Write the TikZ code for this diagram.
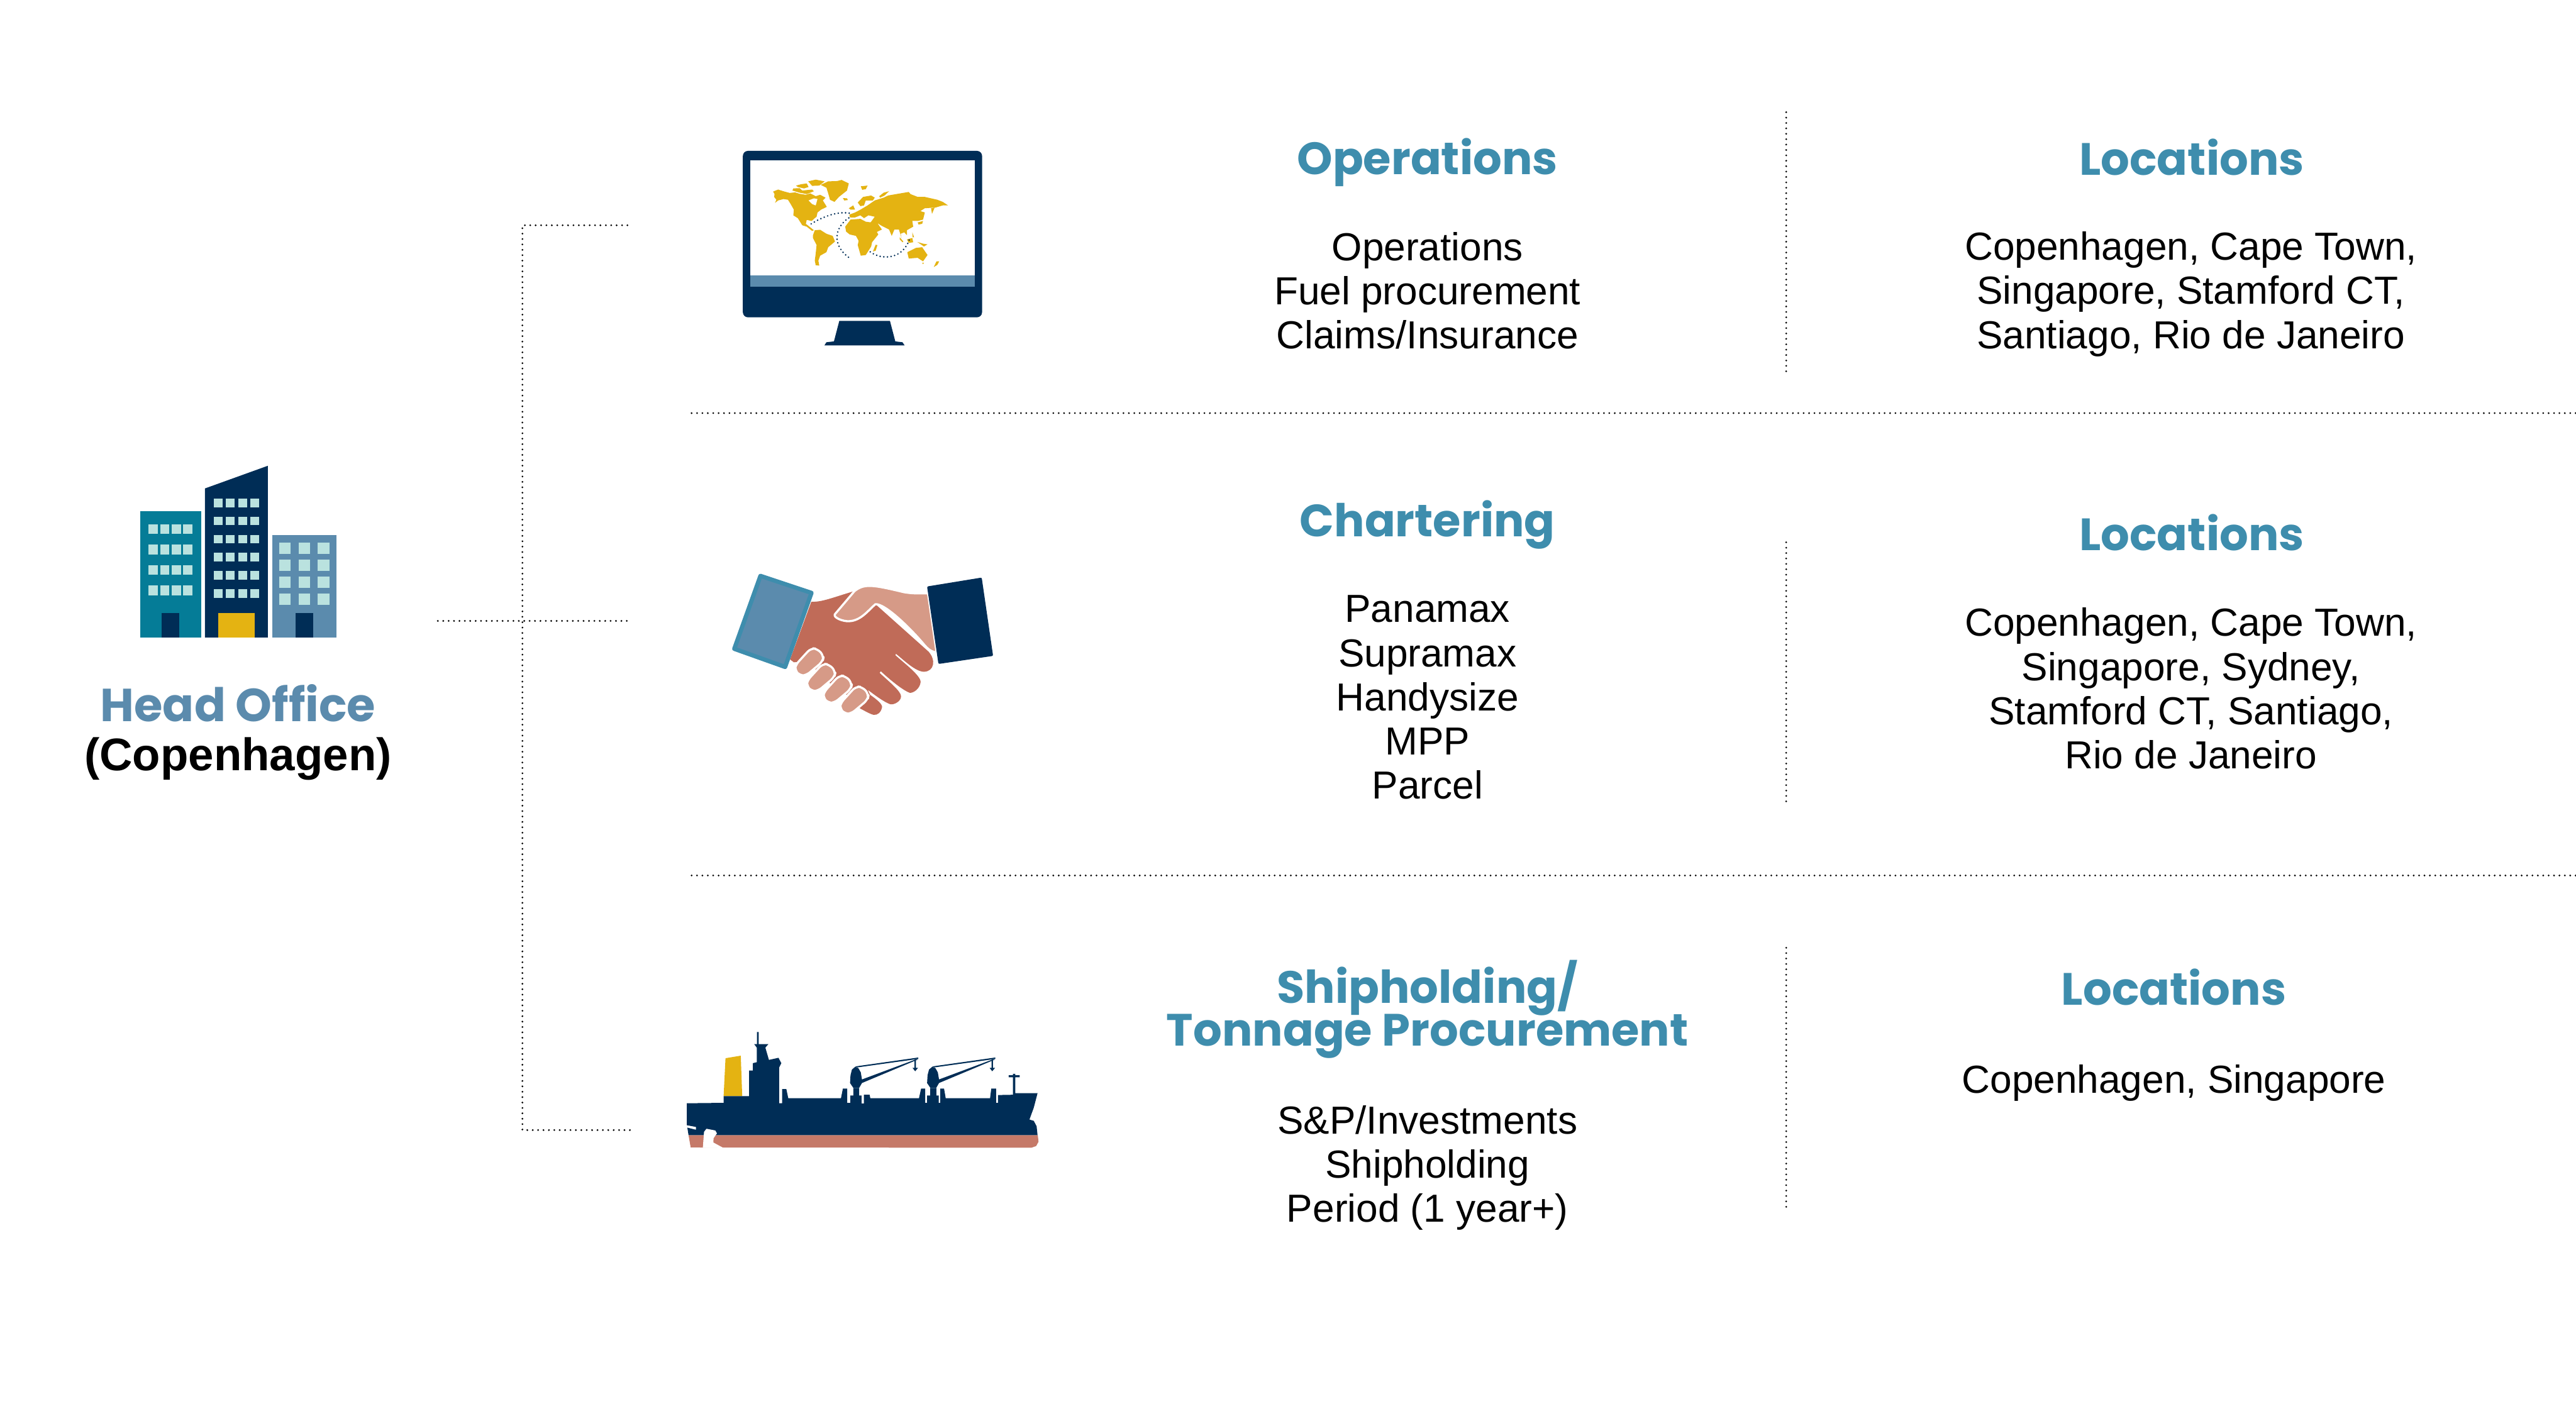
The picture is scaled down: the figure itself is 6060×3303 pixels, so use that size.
\documentclass[tikz,border=0pt]{standalone}
\usepackage{fontspec}
\setmainfont{Liberation Sans}
\newfontfamily\gothfont{Poppins}
\lineskiplimit=-10pt

\definecolor{navy}{HTML}{002D56}
\definecolor{seablue}{HTML}{057C97}
\definecolor{slate}{HTML}{5B8BAD}
\definecolor{pane}{HTML}{BAE2DF}
\definecolor{gold}{HTML}{E4B312}
\definecolor{heading}{HTML}{3E8DAD}
\definecolor{skindark}{HTML}{C06B58}
\definecolor{skinlight}{HTML}{D69A87}
\definecolor{hullred}{HTML}{C57968}

\tikzset{
	bodytext/.style={align=center,inner sep=0pt,font=\fontsize{9.2}{10.4}\selectfont},
	headtext/.style={align=center,inner sep=0pt,text=heading,font=\gothfont\bfseries\fontsize{10.65}{10}\selectfont},
	dotline/.style={line width=.45pt,line cap=round,dash pattern=on 0pt off 1.27pt},
	routedots/.style={navy,line width=.4pt,line cap=round,dash pattern=on 0pt off .86pt},
	gapline/.style={draw=white,line width=.5pt,line join=round},
}

\begin{document}
\begin{tikzpicture}[x=0.1pt,y=-0.1pt]
	\useasboundingbox (0,0) rectangle (6060,3303);

	% buildings
	\begin{scope}[shift={(280,1050)},xscale=.3571,yscale=.3333]
		\fill[seablue] (138,460) rectangle (540,1350);
		\fill[navy] (566,298) -- (980,138) -- (980,1350) -- (566,1350) -- cycle;
		\fill[slate] (1008,626) rectangle (1431,1350);
		\fill[navy] (281,1178) rectangle (397,1350);
		\fill[gold] (652,1178) rectangle (894,1350);
		\fill[navy] (1162,1178) rectangle (1278,1350);
		\foreach \y in {550,694,838,981}
			\foreach \x/\w in {192/65,271/60,345/63,421/64}
				\fill[pane] (\x,\y) rectangle ++(\w,70);
		\foreach \y in {369,497,625,753,880,1008}
			\foreach \x in {624,704,785,865}
				\fill[pane] (\x,\y) rectangle ++(58,61);
		\foreach \y in {681,801,920,1039}
			\foreach \x in {1055,1182,1309}
				\fill[pane] (\x,\y) rectangle ++(76,80);
	\end{scope}

	% monitor
	\begin{scope}[shift={(1700,320)},xscale=.4209,yscale=.3333]
		\fill[navy,rounded corners=1.2pt] (113,105) rectangle (1450,1280);
		\fill[white] (155,172) rectangle (1409,982);
		\fill[slate] (155,982) rectangle (1409,1062);
		\fill[navy] (652,1305) -- (935,1305) -- (965,1450) -- (1005,1456) -- (1017,1478) -- (569,1478) -- (580,1456) -- (622,1450) -- cycle;
		\fill[gold] (282,392) -- (310,378) -- (345,392) -- (375,402) -- (405,398) -- (430,408) -- (465,415) -- (490,405) -- (520,425) -- (545,415) -- (575,435) -- (560,455) -- (582,500) -- (550,520) -- (530,540) -- (525,570) -- (510,585) -- (498,600) -- (470,592) -- (465,620) -- (480,635) -- (495,650) -- (510,665) -- (500,670) -- (470,640) -- (445,630) -- (420,580) -- (395,560) -- (398,520) -- (380,480) -- (365,450) -- (340,445) -- (310,455) -- (293,472) -- (300,450) -- (288,430) -- (290,410) -- cycle;
		\fill[white] (480,455) -- (510,440) -- (530,445) -- (520,490) -- (500,480) -- cycle;
		\fill[gold] (410,350) -- (440,340) -- (470,335) -- (480,360) -- (455,370) -- (420,360) -- cycle;
		\fill[gold] (395,370) -- (430,368) -- (445,385) -- (500,378) -- (510,390) -- (470,410) -- (430,400) -- (390,385) -- cycle;
		\fill[gold] (478,320) -- (520,308) -- (570,320) -- (540,350) -- (500,352) -- cycle;
		\fill[gold] (548,345) -- (590,320) -- (640,318) -- (665,310) -- (705,335) -- (695,385) -- (670,410) -- (650,430) -- (625,465) -- (600,450) -- (590,405) -- (580,365) -- cycle;
		\fill[gold] (672,438) -- (695,440) -- (700,452) -- (680,455) -- cycle;
		\fill[gold] (772,355) -- (810,350) -- (800,375) -- (780,380) -- cycle;
		\fill[gold] (515,665) -- (545,662) -- (580,690) -- (615,705) -- (628,745) -- (590,785) -- (580,820) -- (545,845) -- (535,880) -- (540,915) -- (520,912) -- (515,880) -- (520,830) -- (525,770) -- (505,720) -- (505,700) -- cycle;
		\fill[gold] (685,640) -- (715,590) -- (770,585) -- (800,605) -- (830,610) -- (870,695) -- (835,750) -- (830,780) -- (800,840) -- (772,845) -- (755,770) -- (760,740) -- (745,705) -- (710,695) -- (690,675) -- cycle;
		\fill[gold] (855,768) -- (865,770) -- (855,810) -- (840,815) -- cycle;
		\fill[gold] (708,555) -- (740,540) -- (770,520) -- (810,490) -- (850,455) -- (900,435) -- (925,420) -- (970,410) -- (1040,395) -- (1050,410) -- (1090,430) -- (1130,430) -- (1200,450) -- (1230,465) -- (1260,490) -- (1230,490) -- (1190,505) -- (1130,510) -- (1105,530) -- (1130,540) -- (1120,590) -- (1090,600) -- (1060,600) -- (1065,640) -- (1030,665) -- (1030,700) -- (1015,680) -- (995,690) -- (1000,720) -- (985,660) -- (960,660) -- (945,705) -- (930,660) -- (890,635) -- (865,615) -- (890,660) -- (850,685) -- (820,620) -- (830,605) -- (850,570) -- (815,560) -- (790,580) -- (770,560) -- (740,575) -- (712,575) -- cycle;
		\fill[gold] (755,470) -- (785,430) -- (830,420) -- (850,435) -- (840,455) -- (800,455) -- (790,490) -- (770,495) -- cycle;
		\fill[gold] (875,425) -- (900,400) -- (930,390) -- (905,420) -- (880,435) -- cycle;
		\fill[gold] (705,510) -- (730,490) -- (740,520) -- (715,520) -- cycle;
		\fill[gold] (1090,610) -- (1120,600) -- (1115,620) -- (1095,625) -- cycle;
		\fill[gold] (1165,510) -- (1185,505) -- (1170,550) -- cycle;
		\fill[gold] (1030,730) -- (1060,720) -- (1065,750) -- (1040,755) -- cycle;
		\fill[gold] (990,715) -- (1010,745) -- (1005,750) -- (990,730) -- cycle;
		\fill[gold] (1060,680) -- (1070,715) -- (1062,715) -- cycle;
		\fill[gold] (1088,748) -- (1120,760) -- (1145,765) -- (1125,780) -- cycle;
		\fill[gold] (1032,820) -- (1080,790) -- (1115,785) -- (1145,840) -- (1120,885) -- (1090,860) -- (1040,865) -- cycle;
		\fill[gold] (1115,895) -- (1125,895) -- (1120,905) -- cycle;
		\fill[gold] (1195,885) -- (1210,885) -- (1200,910) -- (1180,925) -- cycle;
		\draw[routedots] (495,620) .. controls (560,570) and (640,530) .. (710,545);
		\draw[routedots] (705,578) .. controls (620,650) and (610,780) .. (717,868);
		\draw[routedots] (825,818) .. controls (890,880) and (1010,870) .. (1045,725);
	\end{scope}

	% handshake
	\begin{scope}[shift={(1680,1310)},xscale=.4464,yscale=.3333]
		\fill[skindark] (512,318) .. controls (570,320) and (620,290) .. (740,242) -- (850,335) -- (1130,670) .. controls (1170,730) and (1160,810) .. (1105,812) .. controls (1060,810) and (1000,730) .. (958,685) -- (955,695) .. controls (1000,750) and (1090,840) .. (1088,885) .. controls (1085,930) and (1050,965) .. (1030,960) .. controls (990,940) and (920,860) .. (878,808) -- (872,820) .. controls (920,880) and (985,950) .. (985,985) .. controls (985,1020) and (950,1045) .. (930,1042) .. controls (900,1030) and (850,980) .. (810,940) -- (822,975) .. controls (860,1010) and (885,1040) .. (885,1060) .. controls (880,1100) and (860,1120) .. (840,1116) .. controls (820,1110) and (790,1085) .. (770,1072) -- (736,1010) -- (648,928) -- (560,845) -- (503,735) -- (420,745) -- (400,725) -- cycle;
		\filldraw[fill=skinlight,gapline] (740,242) .. controls (790,190) and (830,195) .. (1000,250) .. controls (1050,262) and (1090,258) .. (1127,258) -- (1172,675) .. controls (1140,670) and (1125,650) .. (1100,610) .. controls (1030,500) and (900,330) .. (850,335) .. controls (810,380) and (770,460) .. (700,455) .. controls (660,450) and (620,420) .. (640,400) -- cycle;
		\foreach \dx/\dy in {0/0,62/110,149/193,237/270}
			\filldraw[fill=skinlight,gapline,rounded corners=1.1pt,shift={(\dx,\dy)}] (510,645) -- (545,650) -- (578,700) -- (572,740) -- (485,838) -- (452,840) -- (425,800) -- (428,765) -- cycle;
		\filldraw[draw=heading,fill=slate,line width=1pt,line join=round] (244,135) -- (513,255) -- (374,778) -- (106,650) -- cycle;
		\fill[navy,rounded corners=.3pt] (1122,210) -- (1410,147) -- (1470,700) -- (1182,757) -- cycle;
	\end{scope}

	% ship
	\begin{scope}[shift={(1590,2400)},xscale=.5612,yscale=.3333]
		\fill[gold] (208,270) -- (272,252) -- (278,538) -- (200,538) -- cycle;
		\fill[hullred] (53,813) -- (1517,813) -- (1520,860) -- (1510,890) -- (1490,902) -- (62,900) -- cycle;
		\fill[navy] (46,588) -- (200,585) -- (200,538) -- (307,538) -- (307,357) -- (323,357) -- (323,305) -- (339,298) -- (339,195) -- (328,170) -- (340,170) -- (340,85) -- (347,85) -- (347,170) -- (388,170) -- (375,195) -- (390,282) -- (430,267) -- (442,305) -- (433,335) -- (433,588) -- (445,588) -- (445,488) -- (463,488) -- (471,552) -- (692,552) -- (700,484) -- (718,484) -- (718,585) -- (731,585) -- (731,533) -- (744,533) -- (744,480) -- (768,480) -- (768,533) -- (778,533) -- (778,590) -- (788,590) -- (788,528) -- (812,528) -- (815,552) -- (1019,552) -- (1028,484) -- (1045,484) -- (1045,585) -- (1053,585) -- (1053,533) -- (1066,533) -- (1066,480) -- (1092,480) -- (1092,533) -- (1102,533) -- (1102,585) -- (1108,585) -- (1108,484) -- (1124,484) -- (1131,552) -- (1317,552) -- (1322,484) -- (1342,484) -- (1342,585) -- (1350,585) -- (1350,530) -- (1413,528) -- (1413,405) -- (1395,405) -- (1395,390) -- (1413,390) -- (1413,380) -- (1423,380) -- (1423,390) -- (1441,390) -- (1441,405) -- (1423,405) -- (1423,517) -- (1516,517) -- (1500,620) -- (1482,703) -- (1500,712) -- (1512,750) -- (1516,813) -- (53,813) -- (48,760) -- (84,775) -- (84,755) -- (46,743) -- cycle;
		\fill[white] (113,902) -- (118,790) -- (128,768) -- (165,780) -- (172,800) -- (158,835) -- (157,865) -- (200,904) -- cycle;
		\foreach \dx in {0,323} {
			\begin{scope}[shift={(\dx,0)}]
				\fill[navy] (780,420) -- (1003,280) -- (1016,278) -- (780,445) -- (768,480) -- (744,480) -- (730,445) -- (732,390) -- (738,350) -- (752,330) -- (765,340) -- (775,370) -- cycle;
				\fill[navy] (752,328) -- (1016,265) -- (1016,275) -- (760,335) -- cycle;
				\fill[navy] (1000,280) -- (1006,280) -- (1006,338) -- (1015,338) -- (1003,362) -- (992,338) -- (1000,338) -- cycle;
			\end{scope}
		}
	\end{scope}

	% connectors
	\coordinate (opsend) at (1476,530);
	\coordinate (topcorner) at (1229,530);
	\coordinate (botcorner) at (1229,2659);
	\coordinate (shipend) at (1484,2659);
	\coordinate (headend) at (1030,1461);
	\coordinate (chartend) at (1478,1461);
	\coordinate (sepaleft) at (1627,972);
	\coordinate (separight) at (6060,972);
	\coordinate (sepbleft) at (1627,2060);
	\coordinate (sepbright) at (6060,2060);
	\coordinate (divatop) at (4202,264);
	\coordinate (divabot) at (4202,874);
	\coordinate (divbtop) at (4202,1276);
	\coordinate (divbbot) at (4202,1886);
	\coordinate (divctop) at (4202,2230);
	\coordinate (divcbot) at (4202,2840);
	\draw[dotline] (opsend) -- (topcorner) -- (botcorner) -- (shipend);
	\draw[dotline] (headend) -- (chartend);
	\draw[dotline] (sepaleft) -- (separight);
	\draw[dotline] (sepbleft) -- (sepbright);
	\draw[dotline] (divatop) -- (divabot);
	\draw[dotline] (divbtop) -- (divbbot);
	\draw[dotline] (divctop) -- (divcbot);

	% text
	\node[align=center,inner sep=0pt,text=slate,font=\gothfont\bfseries\fontsize{10.9}{12}\selectfont] (headoffice) at (560,1655) {Head Office};
	\node[align=center,inner sep=0pt,font=\bfseries\fontsize{10.75}{12}\selectfont] (headcity) at (560,1786) {(Copenhagen)};

	\node[headtext] (opshead) at (3358,382) {Operations};
	\node[bodytext] (opsbody) at (3358,684) {Operations\\Fuel procurement\\Claims/Insurance};
	\node[headtext] (opsplace) at (5156,370) {Locations};
	\node[bodytext] (opslist) at (5154,692) {Copenhagen, Cape Town,\\Singapore, Stamford CT,\\Santiago, Rio de Janeiro};

	\node[headtext] (charthead) at (3358,1234) {Chartering};
	\node[bodytext] (chartbody) at (3358,1641) {Panamax\\Supramax\\Handysize\\MPP\\Parcel};
	\node[headtext] (chartplace) at (5156,1253) {Locations};
	\node[bodytext] (chartlist) at (5154,1620) {Copenhagen, Cape Town,\\Singapore, Sydney,\\Stamford CT, Santiago,\\Rio de Janeiro};

	\node[headtext] (shiphead) at (3358,2375) {Shipholding/\\Tonnage Procurement};
	\node[bodytext] (shipbody) at (3358,2748) {S\&P/Investments\\Shipholding\\Period (1 year+)};
	\node[headtext] (shipplace) at (5114,2323) {Locations};
	\node[bodytext] (shiplist) at (5114,2548) {Copenhagen, Singapore};
\end{tikzpicture}
\end{document}
